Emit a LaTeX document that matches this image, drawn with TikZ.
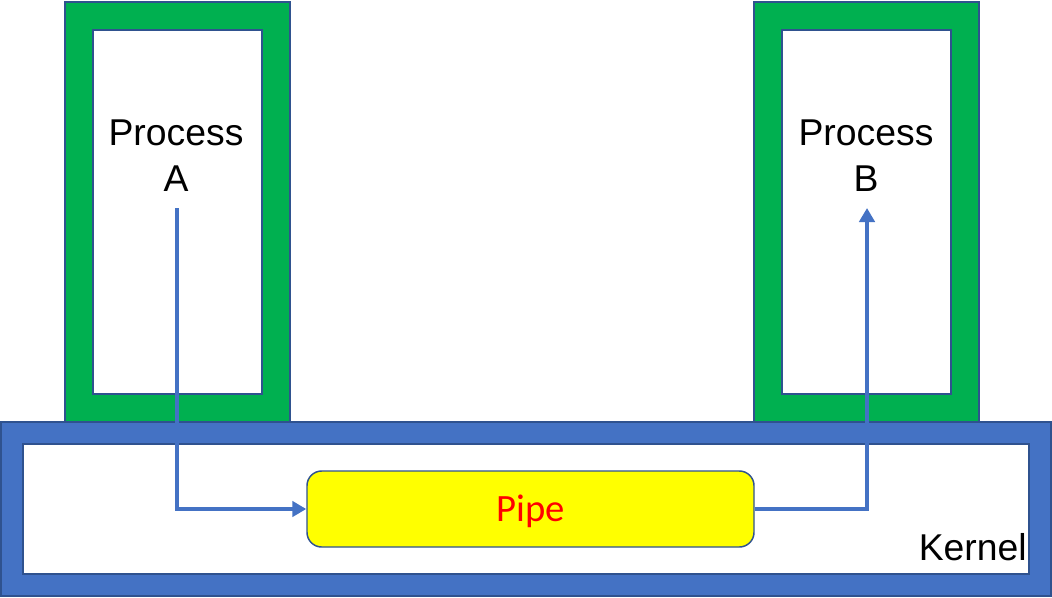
\documentclass[tikz,border=0pt]{standalone}
\usepackage{fontspec}
\setmainfont{Liberation Sans}
\newfontfamily\pipefont{Carlito}
\usetikzlibrary{arrows.meta}
\definecolor{pgreen}{HTML}{00B050}
\definecolor{kblue}{HTML}{4472C4}
\definecolor{edge}{HTML}{2F528F}
\definecolor{pipefill}{HTML}{FFFF00}
\definecolor{pipetext}{HTML}{FF0000}
\tikzset{
  frame/.style={draw=edge, line width=0.9pt},
  hole/.style={fill=white, draw=edge, line width=0.9pt},
  lab/.style={text=black, font=\fontsize{28}{34.5}\selectfont, align=center, inner sep=0pt},
  pipebox/.style={draw=edge, fill=pipefill, line width=1.1pt, rounded corners=11pt,
    minimum width=335.25pt, minimum height=57pt, inner sep=0pt,
    text height=18pt, text depth=0pt,
    text=pipetext, font=\pipefont\fontsize{29}{30}\selectfont},
  flow/.style={draw=kblue, line width=2.9pt, -{Triangle[length=10.5pt,width=11.5pt]}},
}
\begin{document}
\begin{tikzpicture}[x=0.75pt,y=-0.75pt]
  \useasboundingbox (0,0) rectangle (1052,597);
  % process frames
  \draw[frame, fill=pgreen] (65,2) rectangle (290,422);
  \draw[hole] (93,30) rectangle (262,394);
  \draw[frame, fill=pgreen] (754,2) rectangle (979,422);
  \draw[hole] (782,30) rectangle (951,394);
  % kernel
  \draw[frame, fill=kblue] (1,422) rectangle (1051,596);
  \draw[hole] (23,444) rectangle (1029,574);
  \node[lab] (procA) at (176,156) {Process\\A};
  \node[lab] (procB) at (866,156) {Process\\B};
  \node[lab, anchor=base east] (kernel) at (1027,560) {Kernel};
  \node[pipebox] (pipe) at (530.5,509) {Pipe};
  \coordinate (outA) at (177,208);
  \coordinate (inB) at (867,208);
  \draw[flow] (outA) |- (pipe.west);
  \draw[flow] (pipe.east) -| (inB);
\end{tikzpicture}
\end{document}
